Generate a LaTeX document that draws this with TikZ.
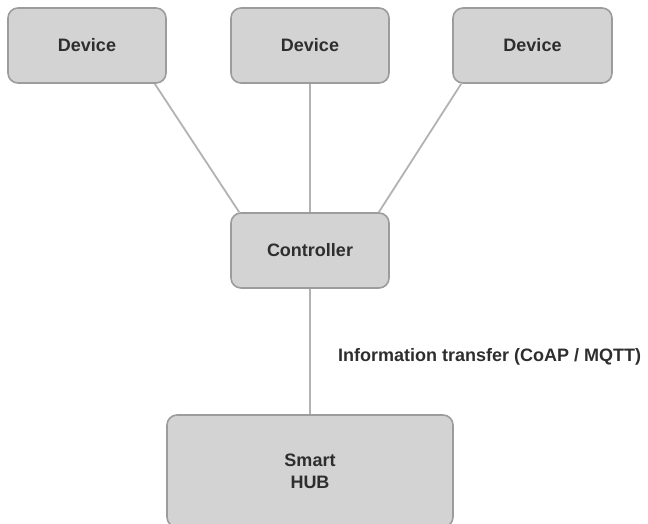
\documentclass[tikz,border=0pt]{standalone}
\usepackage{fontspec}
\setmainfont{Liberation Sans}
\definecolor{boxfill}{HTML}{D3D3D3}
\definecolor{boxline}{HTML}{9C9C9C}
\definecolor{wire}{HTML}{B2B2B2}
\definecolor{ink}{HTML}{2E2E2E}
\begin{document}
\begin{tikzpicture}[x=1pt,y=-1pt,
  unit/.style={draw=boxline, fill=boxfill, line width=1.6pt, rounded corners=10pt,
    inner sep=0pt, text=ink, font=\fontsize{18}{22}\selectfont\bfseries, align=center},
  wireline/.style={draw=wire, line width=1.8pt}]
\useasboundingbox (0,0) rectangle (648,523);
\clip (0,0) rectangle (648,523);
% top row of devices
\node[unit, minimum width=158pt, minimum height=75pt] (d1) at (87,45.5) {Device};
\node[unit, minimum width=158pt, minimum height=75pt] (d2) at (310,45.5) {Device};
\node[unit, minimum width=159pt, minimum height=75pt] (d3) at (532.5,45.5) {Device};
% controller and hub
\node[unit, minimum width=158pt, minimum height=75pt] (ctrl) at (310,250.5) {Controller};
\node[unit, minimum width=286pt, minimum height=112pt] (hub) at (310,471) {Smart\\HUB};
% links
\draw[wireline] ([xshift=-12pt]d1.south east) -- ([xshift=9pt]ctrl.north west);
\draw[wireline] (d2.south) -- (ctrl.north);
\draw[wireline] ([xshift=9pt]d3.south west) -- ([xshift=-11pt]ctrl.north east);
\draw[wireline] (ctrl.south) -- (hub.north);
% protocol label
\node[anchor=west, inner sep=0pt, text=ink, font=\fontsize{18}{22}\selectfont\bfseries] (proto) at (338,357) {Information transfer (CoAP / MQTT)};
\end{tikzpicture}
\end{document}
